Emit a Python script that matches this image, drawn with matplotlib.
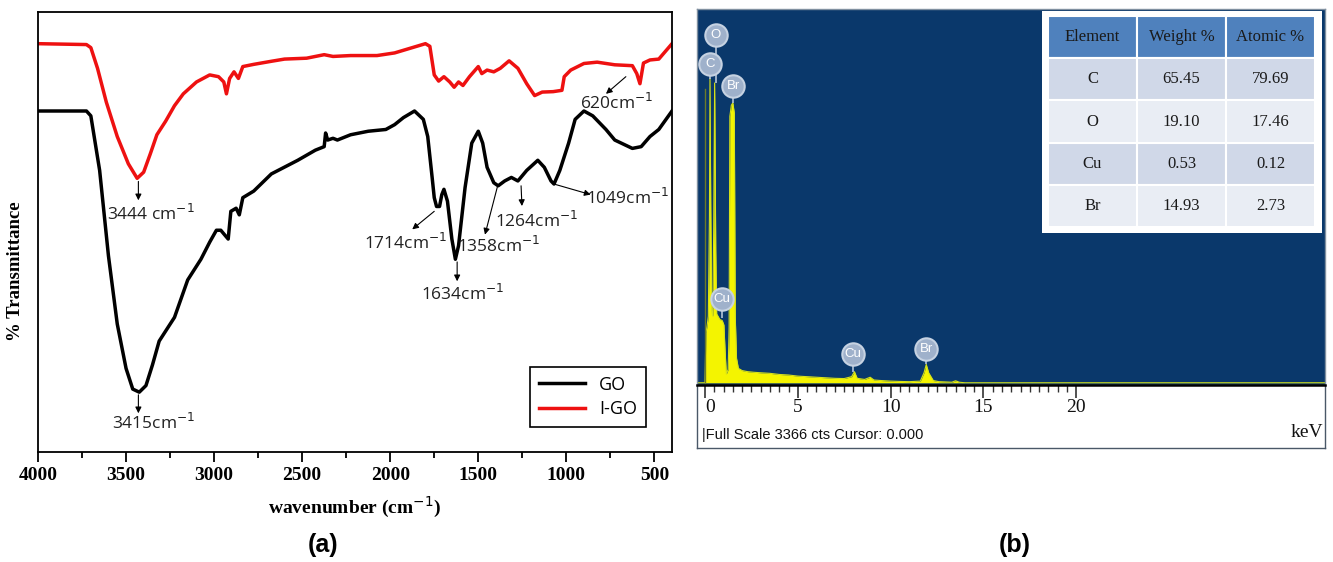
import numpy as np
import matplotlib
matplotlib.use("Agg")
from matplotlib import pyplot as plt
from matplotlib.ticker import FixedLocator

# ---- data: FTIR spectra (panel a) ----
wn_go = [4000, 3725, 3700, 3650, 3600, 3550, 3500, 3462, 3425, 3387, 3350, 3312, 3275, 3225,
         3150, 3075, 3025, 2987, 2962, 2937, 2920, 2905, 2875, 2857, 2837, 2775, 2675, 2525,
         2425, 2375, 2367, 2355, 2325, 2300, 2225, 2125, 2025, 1975, 1925, 1862, 1812, 1787,
         1762, 1750, 1737, 1720, 1707, 1695, 1675, 1650, 1630, 1612, 1575, 1537, 1500, 1475,
         1450, 1412, 1387, 1350, 1312, 1275, 1225, 1162, 1125, 1087, 1070, 1037, 987, 950,
         900, 850, 775, 725, 625, 575, 525, 475, 400]
t_go = [77.5, 77.5, 76.4, 64.0, 44.6, 29.1, 19.0, 14.3, 13.6, 15.1, 19.8, 25.2, 27.5, 30.6,
        39.1, 43.8, 47.7, 50.4, 50.4, 49.2, 48.4, 54.7, 55.4, 53.9, 57.8, 59.3, 63.2, 66.3,
        68.6, 69.4, 72.5, 70.9, 71.3, 70.9, 72.1, 72.9, 73.3, 74.4, 76.0, 77.5, 75.6, 71.7,
        62.4, 57.8, 55.8, 55.8, 58.5, 59.7, 57.0, 48.4, 43.8, 46.9, 60.1, 70.2, 72.9, 70.2,
        64.7, 61.2, 60.5, 61.6, 62.4, 61.6, 64.0, 66.3, 64.7, 61.6, 60.9, 64.0, 70.2, 75.6,
        77.5, 76.4, 73.3, 70.9, 69.0, 69.4, 71.7, 73.3, 77.5]

wn_igo = [4000, 3725, 3700, 3662, 3612, 3550, 3487, 3437, 3400, 3362, 3325, 3275, 3225, 3175,
          3100, 3025, 2975, 2945, 2930, 2912, 2887, 2862, 2837, 2775, 2675, 2600, 2475, 2375,
          2325, 2225, 2075, 1975, 1875, 1800, 1775, 1750, 1725, 1695, 1662, 1637, 1612, 1587,
          1550, 1500, 1480, 1450, 1412, 1375, 1325, 1275, 1225, 1180, 1137, 1075, 1025, 1012,
          975, 900, 825, 725, 625, 600, 582, 562, 525, 475, 400]
t_igo = [92.8, 92.6, 91.9, 87.2, 79.5, 71.7, 65.5, 62.2, 63.6, 67.8, 72.1, 75.2, 78.7, 81.4,
         84.1, 85.7, 85.3, 84.1, 81.4, 84.9, 86.4, 84.9, 87.6, 88.1, 88.8, 89.3, 89.5, 90.3,
         89.9, 90.1, 90.1, 90.7, 91.9, 92.8, 92.2, 85.7, 84.3, 85.3, 84.1, 82.9, 84.1, 83.3,
         85.3, 87.6, 86.0, 86.8, 86.4, 87.2, 88.9, 87.2, 83.7, 81.0, 81.8, 81.9, 82.2, 85.3,
         86.8, 88.3, 88.6, 88.0, 87.8, 86.0, 83.7, 88.4, 89.1, 89.3, 92.8]

# ---- data: EDS spectrum (panel b) ----
kev = [-0.4, 0.0, 0.05, 0.12, 0.18, 0.24, 0.27, 0.31, 0.36, 0.42, 0.47, 0.52, 0.58, 0.63,
       0.70, 0.80, 0.93, 1.02, 1.08, 1.15, 1.25, 1.30, 1.34, 1.42, 1.50, 1.58, 1.63, 1.70,
       1.80, 2.0, 2.3, 2.6, 3.0, 3.5, 4.0, 4.5, 5.0, 5.5, 6.0, 6.5, 7.0, 7.5, 7.9, 8.05,
       8.2, 8.6, 8.9, 9.1, 9.5, 10.0, 10.5, 11.0, 11.6, 11.8, 11.92, 12.05, 12.3, 12.6, 13.3,
       13.5, 13.7, 14.0, 34.0]
counts = [0, 0, 450, 520, 600, 1500, 2740, 1600, 650, 600, 1400, 2700, 1200, 620,
          600, 570, 560, 520, 300, 80, 120, 500, 2400, 2500, 2520, 2430, 600, 220,
          130, 110, 100, 95, 90, 85, 75, 70, 60, 55, 50, 45, 40, 38, 55, 100,
          40, 30, 50, 25, 20, 15, 12, 10, 15, 90, 165, 90, 20, 10, 5,
          18, 5, 0, 0]

peak_el = ["O", "C", "Br", "Cu", "Cu", "Br"]
peak_kev = [0.59, 0.27, 1.51, 0.92, 7.98, 11.91]
peak_top = [2700, 2740, 2520, 580, 100, 165]

elements = ["C", "O", "Cu", "Br"]
weight = ["65.45", "19.10", "0.53", "14.93"]
atomic = ["79.69", "17.46", "0.12", "2.73"]

W, H = 1333, 562
fig = plt.figure(figsize=(W / 100, H / 100), dpi=100)


def box(l, t, r, b):
    return [l / W, 1 - b / H, (r - l) / W, (b - t) / H]


serif = "Liberation Serif"
sans = "Liberation Sans"
note = "Open Sans"

# ================= panel (a) =================
ax = fig.add_axes(box(38, 12, 672, 452))
ax.plot(wn_go, t_go, color="black", lw=2.5, label="GO")
ax.plot(wn_igo, t_igo, color="#ee1111", lw=2.5, label="I-GO")
ax.set_xlim(4000, 400)
ax.set_ylim(0, 100)
ax.set_yticks([])
ax.xaxis.set_major_locator(FixedLocator([4000, 3500, 3000, 2500, 2000, 1500, 1000, 500]))
ax.xaxis.set_minor_locator(FixedLocator(np.arange(3750, 400, -500)))
ax.tick_params(axis="x", which="major", direction="out", length=7, width=1.3, pad=4)
ax.tick_params(axis="x", which="minor", direction="out", length=4, width=1.3)
for lab in ax.get_xticklabels():
    lab.set_fontfamily(serif)
    lab.set_fontweight("bold")
    lab.set_fontsize(14)
for s in ax.spines.values():
    s.set_linewidth(1.3)
ax.set_xlabel("wavenumber (cm$^{-1}$)", fontfamily=serif, fontweight="bold",
              fontsize=14, labelpad=8)
ax.set_ylabel("% Transmittance", fontfamily=serif, fontweight="bold", fontsize=13.5)
ax.yaxis.set_label_coords(-0.022, 0.41)

leg = ax.legend(loc="lower right", bbox_to_anchor=(0.959, 0.057), borderaxespad=0,
                fancybox=False, edgecolor="black", framealpha=1, handlelength=2.5,
                borderpad=0.5, labelspacing=0.35, prop={"family": note, "size": 13})
leg.get_frame().set_linewidth(1.2)

arrow = dict(arrowstyle="-|>", color="black", lw=0.8, mutation_scale=9, shrinkA=0, shrinkB=0)
# (label, tail xy, head xy, text xy)
notes = [
    ("3444 cm$^{-1}$", (3430, 61.5), (3430, 57.2), (3362, 54.0)),
    ("3415cm$^{-1}$", (3430, 13.0), (3430, 8.8), (3345, 6.5)),
    ("1714cm$^{-1}$", (1750, 54.7), (1875, 50.6), (1912, 47.5)),
    ("1634cm$^{-1}$", (1620, 43.2), (1620, 38.8), (1587, 36.0)),
    ("1358cm$^{-1}$", (1392, 60.2), (1462, 49.4), (1387, 46.8)),
    ("1264cm$^{-1}$", (1257, 60.5), (1252, 55.9), (1170, 52.6)),
    ("1049cm$^{-1}$", (1070, 60.9), (862, 58.5), (650, 57.8)),
    ("620cm$^{-1}$", (662, 85.3), (775, 81.4), (712, 79.3)),
]
for lab, tail, head, txt in notes:
    ax.annotate("", xy=head, xytext=tail, arrowprops=arrow)
    ax.text(txt[0], txt[1], lab, ha="center", va="center", fontfamily=note, fontsize=12.5,
            color="#222222")

fig.text(323 / W, 1 - 545 / H, "(a)", ha="center", va="center", fontfamily=sans,
         fontweight="bold", fontsize=18)
fig.text(1015 / W, 1 - 545 / H, "(b)", ha="center", va="center", fontfamily=sans,
         fontweight="bold", fontsize=18)

# ================= panel (b) =================
navy = "#0a386b"
ax2 = fig.add_axes(box(697, 9, 1325, 385))
ax2.set_facecolor(navy)
ax2.set_xlim(-0.43, 33.4)
ax2.set_ylim(-20, 3366)
ax2.set_xticks([])
ax2.set_yticks([])
for s in ax2.spines.values():
    s.set_color("#8090a0")
    s.set_linewidth(1)

ax2.fill_between(kev, 0, counts, color="#f4f400", lw=0)
ax2.plot(kev, counts, color="#d6e21a", lw=0.8)
ax2.plot([0, 0], [0, 2650], color="#6a7a2a", lw=1)

badge_y = [3130, 2870, 2670, 750, 255, 300]
ax2.vlines(peak_kev, peak_top, badge_y, color="#b4c4d8", lw=1.2, zorder=4)
ax2.scatter(peak_kev, badge_y, s=260, c="#9fb1cb", edgecolors="#c6d2e2", linewidths=1.5,
            zorder=5)
for el, x, y in zip(peak_el, peak_kev, badge_y):
    ax2.text(x, y, el, ha="center", va="center", color="white", fontsize=9.5,
             fontfamily=sans, zorder=6)

# table with element composition
ax2.add_patch(plt.Rectangle((0.549, 0.405), 0.447, 0.589, transform=ax2.transAxes,
                            facecolor="white", edgecolor="none", zorder=6))
rows = [[e, w, a] for e, w, a in zip(elements, weight, atomic)]
tab = ax2.table(cellText=rows, colLabels=["Element", "Weight %", "Atomic %"],
                cellLoc="center", bbox=[0.559, 0.419, 0.425, 0.563], zorder=7)
tab.auto_set_font_size(False)
tab.set_fontsize(12)
for (r, c), cell in tab.get_celld().items():
    cell.set_edgecolor("white")
    cell.set_linewidth(1.5)
    cell.get_text().set_fontfamily(serif)
    cell.get_text().set_color("#1a1a1a")
    if r == 0:
        cell.set_facecolor("#4f81bd")
    elif r % 2 == 1:
        cell.set_facecolor("#d0d8e8")
    else:
        cell.set_facecolor("#e9edf4")

# white scale strip below the spectrum
ax3 = fig.add_axes(box(697, 385, 1325, 448))
ax3.set_xlim(-0.43, 33.4)
ax3.set_ylim(0, 1)
ax3.set_yticks([])
ax3.xaxis.set_ticks_position("top")
ax3.xaxis.set_major_locator(FixedLocator([0, 5, 10, 15, 20]))
ax3.xaxis.set_minor_locator(FixedLocator(np.arange(0, 20.5, 0.5)))
ax3.tick_params(axis="x", which="major", direction="in", length=9, width=1.2,
                color="#333333", labeltop=False, labelbottom=False)
ax3.tick_params(axis="x", which="minor", direction="in", length=5, width=1.0,
                color="#333333")
ax3.spines["top"].set_color("black")
ax3.spines["top"].set_linewidth(1.8)
for side in ["left", "right", "bottom"]:
    ax3.spines[side].set_color("#4a5868")
    ax3.spines[side].set_linewidth(1)
for k in [0, 5, 10, 15, 20]:
    ax3.text(k, 0.64, str(k), ha="left" if k == 0 else "center", va="center",
             fontfamily=serif, fontsize=14, color="#111111")
ax3.text(0.008, 0.2, "|Full Scale 3366 cts Cursor: 0.000", transform=ax3.transAxes,
         ha="left", va="center", fontfamily=sans, fontsize=10.5, color="#111111")
ax3.text(0.997, 0.25, "keV", transform=ax3.transAxes, ha="right", va="center",
         fontfamily=serif, fontsize=14, color="#111111")

fig.savefig("out.png", dpi=100)
